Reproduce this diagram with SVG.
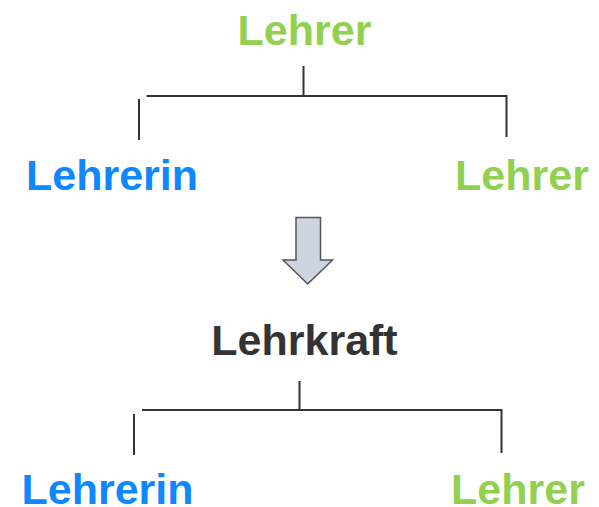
<svg xmlns="http://www.w3.org/2000/svg" width="599" height="507" viewBox="0 0 599 507">
  <style>
    text { font-family: "Liberation Sans", Arial, sans-serif; font-weight: bold; font-size: 43px; text-anchor: middle; }
    .green { fill: #92D050; }
    .blue { fill: #0F87FF; }
    .dark { fill: #333333; }
    .link { fill: none; stroke: #333333; stroke-width: 2; }
  </style>
  <rect width="599" height="507" fill="#ffffff"/>

  <g id="connectors">
    <!-- upper tree -->
    <path class="link" d="M303.5 66 V96 M146.5 96 H506.5 V137 M139 99 V140"/>
    <!-- lower tree -->
    <path class="link" d="M299.5 381 V410 M142 410 H501.5 V453 M134 414 V455"/>
  </g>

  <g id="root-lehrer"><text class="green" x="304.5" y="45">Lehrer</text></g>
  <g id="top-lehrerin"><text class="blue" x="112" y="189.5">Lehrerin</text></g>
  <g id="top-lehrer"><text class="green" x="522" y="189.5">Lehrer</text></g>

  <g id="transform-arrow">
    <polygon points="296,217.5 320.5,217.5 320.5,260 332.5,260 307.7,284 283,260 296,260" fill="#CDD6E0" stroke="#555555" stroke-width="1.5" stroke-linejoin="miter"/>
  </g>

  <g id="root-lehrkraft"><text class="dark" x="304.5" y="355">Lehrkraft</text></g>
  <g id="bottom-lehrerin"><text class="blue" x="107.5" y="504.3">Lehrerin</text></g>
  <g id="bottom-lehrer"><text class="green" x="518" y="504.3">Lehrer</text></g>
</svg>
